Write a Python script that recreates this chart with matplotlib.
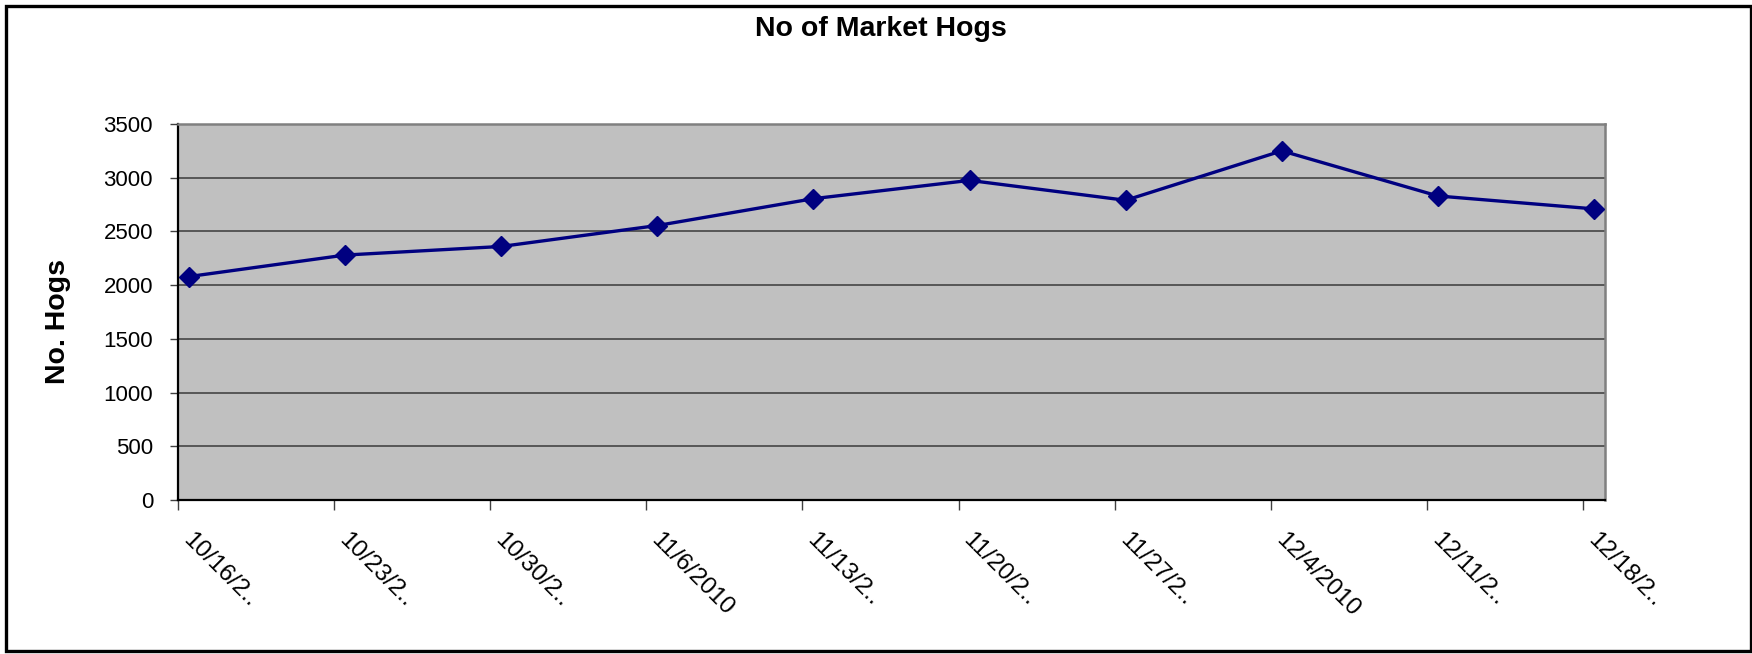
import matplotlib
matplotlib.use("Agg")
import matplotlib.pyplot as plt
from matplotlib.patches import Rectangle
from matplotlib.ticker import FixedLocator, NullFormatter
import matplotlib.transforms as mtransforms

# ---- data ----
dates = ["10/16/2..", "10/23/2..", "10/30/2..", "11/6/2010", "11/13/2..",
         "11/20/2..", "11/27/2..", "12/4/2010", "12/11/2..", "12/18/2.."]
hogs = [2080, 2280, 2360, 2555, 2805, 2975, 2790, 3250, 2830, 2710]
y_ticks = [0, 500, 1000, 1500, 2000, 2500, 3000, 3500]
title = "No of Market Hogs"
y_label = "No. Hogs"

plt.rcParams['font.family'] = ['Liberation Sans', 'DejaVu Sans']

W, H = 1752, 654
fig = plt.figure(figsize=(W / 100, H / 100), dpi=100)
fig.patch.set_facecolor('white')

L, R, T, B = 178, 1605, 124, 500
ax = fig.add_axes([L / W, (H - B) / H, (R - L) / W, (B - T) / H])
ax.set_facecolor('#C0C0C0')

x = list(range(len(hogs)))
ax.plot(x, hogs, color='#000080', lw=2.4, marker='D', ms=10,
        markerfacecolor='#000080', markeredgecolor='#000080', zorder=3)

off = 11 / 156.1
ax.set_xlim(-off, len(hogs) - 1 + off)
ax.set_ylim(0, 3500)

# y axis
ax.set_yticks(y_ticks)
ax.set_yticklabels([str(v) for v in y_ticks], fontsize=16)
ax.tick_params(axis='y', length=6, width=1, color='#404040', pad=12)
ax.yaxis.grid(True, color='#3a3a3a', lw=1.1)
ax.set_axisbelow(True)

# x axis: tick marks at category boundaries, labels at categories
ax.xaxis.set_minor_locator(FixedLocator([i - off for i in x]))
ax.xaxis.set_minor_formatter(NullFormatter())
ax.set_xticks(x)
ax.set_xticklabels(dates, fontsize=17.5)
ax.tick_params(axis='x', which='major', length=0, pad=21)
ax.tick_params(axis='x', which='minor', length=7, width=1, color='#404040')
shift = mtransforms.ScaledTranslation(5 / 100, 0, fig.dpi_scale_trans)
for lab in ax.get_xticklabels():
    lab.set_rotation(-45)
    lab.set_rotation_mode('anchor')
    lab.set_ha('left')
    lab.set_va('top')
    lab.set_transform(lab.get_transform() + shift)

# spines
for s in ['left', 'bottom']:
    ax.spines[s].set_color('black')
    ax.spines[s].set_linewidth(1.6)
for s in ['top', 'right']:
    ax.spines[s].set_color('#808080')
    ax.spines[s].set_linewidth(1.8)

# titles
fig.text(881 / W, (H - 36) / H, title, ha='center', va='baseline',
         fontsize=20.5, fontweight='bold')
fig.text(58 / W, (H - 321) / H, y_label, ha='center', va='center',
         rotation=90, fontsize=20.5, fontweight='bold')

# outer border
fig.patches.append(Rectangle((5.7 / W, 3 / H), (1750.5 - 5.7) / W, (H - 6 - 3) / H,
                             transform=fig.transFigure, fill=False,
                             edgecolor='black', lw=2.4))

fig.savefig('out.png', dpi=100, facecolor='white')
